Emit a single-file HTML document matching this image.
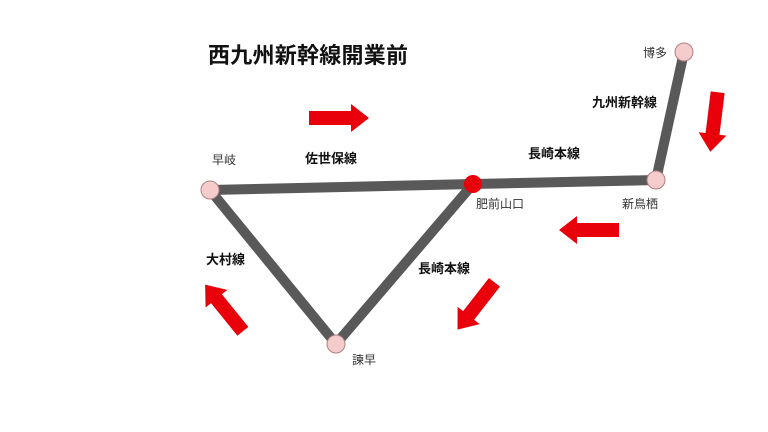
<!DOCTYPE html>
<html><head><meta charset="utf-8"><style>
body{margin:0;background:#fff}
svg{display:block}
text{font-family:"Liberation Sans","Noto Sans CJK JP",sans-serif;fill:#111}
.b{font-weight:bold;font-size:13px}
.s{font-size:12px;fill:#333}
</style></head><body>
<svg width="768" height="432" viewBox="0 0 768 432">
<defs><polygon id="ar" points="-30,-7 12,-7 12,-14 30,0 12,14 12,7 -30,7" fill="#e8000b"/></defs>
<g stroke="#595959" stroke-width="10" stroke-linecap="round" fill="none">
<polyline points="210,190 473,184 656,180 684,52"/>
<polyline points="210,190 336,344 473,184"/>
</g>
<g stroke="#b08080" stroke-width="1" fill="#f4cccc">
<circle cx="210" cy="190" r="9"/><circle cx="336" cy="344" r="9"/>
<circle cx="656" cy="180" r="9"/><circle cx="684" cy="52" r="9"/>
</g>
<circle cx="473" cy="184" r="9" fill="#e8000b"/>
<use href="#ar" transform="translate(339,118)"/>
<use href="#ar" transform="translate(589,230) rotate(180)"/>
<use href="#ar" transform="translate(714,122) rotate(97)"/>
<use href="#ar" transform="translate(476,306) rotate(128)"/>
<use href="#ar" transform="translate(224,308) rotate(-129)"/>
<text x="208" y="63" font-size="22" font-weight="bold" textLength="200">西九州新幹線開業前</text>
<text class="s" x="212" y="164">早岐</text>
<text class="b" x="305" y="163">佐世保線</text>
<text class="b" x="528" y="158">長崎本線</text>
<text class="b" x="592" y="107">九州新幹線</text>
<text class="s" x="643" y="57">博多</text>
<text class="s" x="476" y="208">肥前山口</text>
<text class="s" x="622" y="208">新鳥栖</text>
<text class="b" x="418" y="273">長崎本線</text>
<text class="b" x="206" y="264">大村線</text>
<text class="s" x="352" y="364">諫早</text>
</svg>
</body></html>
